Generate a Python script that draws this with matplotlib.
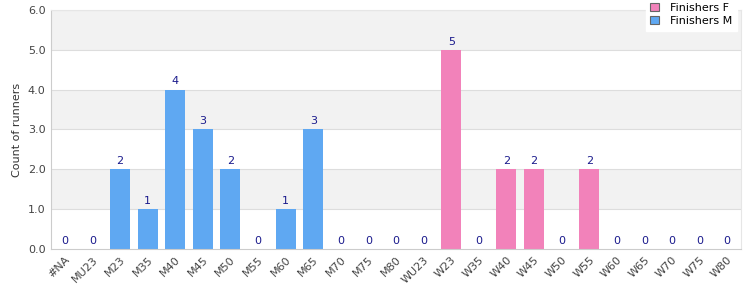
import matplotlib
matplotlib.use("Agg")
import matplotlib.pyplot as plt
import numpy as np

# Age categories and finisher counts
categories = ["#NA", "MU23", "M23", "M35", "M40", "M45", "M50", "M55", "M60", "M65",
              "M70", "M75", "M80", "WU23", "W23", "W35", "W40", "W45", "W50", "W55",
              "W60", "W65", "W70", "W75", "W80"]
finishers_m = [0, 0, 2, 1, 4, 3, 2, 0, 1, 3, 0, 0, 0, 0, 0, 0, 0, 0, 0, 0, 0, 0, 0, 0, 0]
finishers_f = [0, 0, 0, 0, 0, 0, 0, 0, 0, 0, 0, 0, 0, 0, 5, 0, 2, 2, 0, 2, 0, 0, 0, 0, 0]
y_ticks = [0, 1, 2, 3, 4, 5, 6]

COLOR_M = "#5fa8f2"
COLOR_F = "#f282ba"

plt.rcParams["font.family"] = "DejaVu Sans"

fig = plt.figure(figsize=(7.5, 3), dpi=100)
ax = fig.add_axes([0.068, 0.17, 0.92, 0.797])

x = np.arange(len(categories))
m = np.array(finishers_m)
f = np.array(finishers_f)

# alternating background bands (gray on 1-2, 3-4, 5-6)
for i in range(len(y_ticks) - 1):
    if i % 2 == 1:
        ax.axhspan(y_ticks[i], y_ticks[i + 1], color="#f2f2f2", zorder=0, lw=0)
for t in y_ticks[1:]:
    ax.axhline(t, color="#dddddd", lw=0.8, zorder=0.5)

ax.bar(x, m, width=0.72, color=COLOR_M, label="Finishers M", zorder=2)
ax.bar(x, f, bottom=m, width=0.72, color=COLOR_F, label="Finishers F", zorder=2)

totals = m + f
for xi, t in zip(x, totals):
    ax.text(xi, t + 0.08, f"{t}", ha="center", va="bottom", fontsize=8,
            color="#1a1a8c", zorder=3)

ax.set_xlim(-0.5, len(categories) - 0.5)
ax.set_ylim(0, 6)
ax.set_yticks(y_ticks)
ax.set_yticklabels([f"{t:.1f}" for t in y_ticks], fontsize=8, color="#444444")
ax.set_xticks(x)
ax.set_xticklabels(categories, rotation=45, ha="right", rotation_mode="anchor",
                   fontsize=8, color="#444444")
ax.tick_params(length=0, pad=4)
ax.set_ylabel("Count of runners", fontsize=8, color="#333333")

for side in ["top", "right"]:
    ax.spines[side].set_color("#e6e6e6")
for side in ["left", "bottom"]:
    ax.spines[side].set_color("#cccccc")

handles, labels = ax.get_legend_handles_labels()
leg = fig.legend(handles[::-1], labels[::-1], loc="upper right",
                 bbox_to_anchor=(0.99, 1.025), fontsize=8, frameon=True,
                 fancybox=False, handlelength=0.8, handleheight=0.8,
                 borderpad=0.4, labelspacing=0.3, handletextpad=1.0)
leg.get_frame().set_facecolor("white")
leg.get_frame().set_edgecolor("white")
leg.get_frame().set_alpha(1.0)
for h in leg.legend_handles:
    h.set_edgecolor("#666666")
    h.set_linewidth(0.8)

fig.savefig("out.png", dpi=100)
